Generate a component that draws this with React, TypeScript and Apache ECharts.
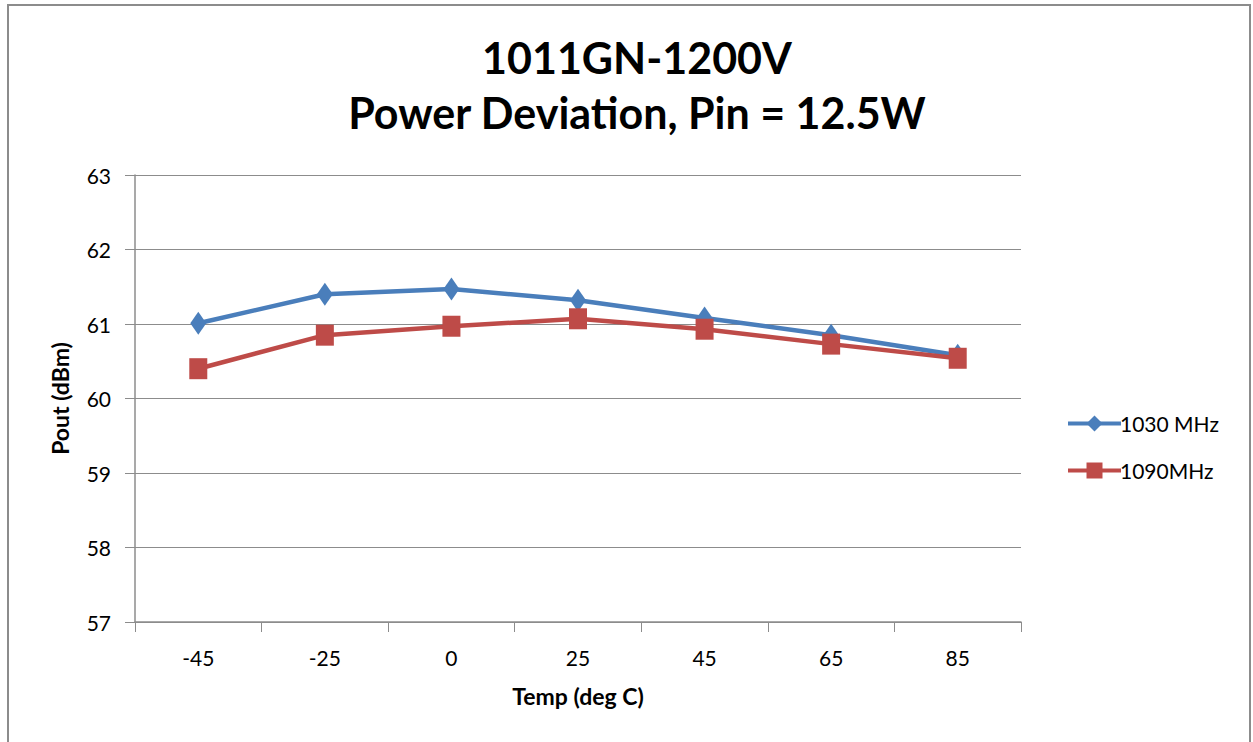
import React, { useEffect, useRef } from "react";
import * as echarts from "echarts";

const categories = ["-45", "-25", "0", "25", "45", "65", "85"];
const series1030 = [61.01, 61.4, 61.47, 61.32, 61.08, 60.85, 60.58];
const series1090 = [60.4, 60.85, 60.97, 61.07, 60.93, 60.73, 60.54];
const yTicks = { min: 57, max: 63, interval: 1 };

const FONT = "Lato, 'Open Sans', sans-serif";

export default function App() {
  const ref = useRef<HTMLDivElement>(null);
  useEffect(() => {
    if (!ref.current) return;
    const chart = echarts.init(ref.current, null, { renderer: "svg" });
    chart.setOption({
      animation: false,
      backgroundColor: "#ffffff",
      textStyle: { fontFamily: FONT },
      graphic: [
        {
          type: "rect",
          shape: { x: 8, y: 5, width: 1242, height: 760 },
          style: { fill: "none", stroke: "#8c8c8c", lineWidth: 2 },
          silent: true,
        },
      ],
      title: {
        text: "1011GN-1200V\nPower Deviation, Pin = 12.5W",
        left: 632,
        textAlign: "center",
        top: 25,
        textStyle: {
          fontFamily: FONT,
          fontSize: 43,
          fontWeight: "bold",
          color: "#000",
          lineHeight: 55,
        },
      },
      legend: {
        orient: "vertical",
        left: 1061,
        top: 408,
        itemGap: 26,
        itemWidth: 53,
        itemHeight: 20,
        lineStyle: { width: 4 },
        textStyle: { fontFamily: FONT, fontSize: 21, color: "#000", padding: [0, 0, 0, -6] },
        data: ["1030 MHz", "1090MHz"],
      },
      grid: { left: 135, right: 232, top: 175, bottom: 120 },
      xAxis: {
        type: "category",
        data: categories,
        name: "Temp (deg C)",
        nameLocation: "middle",
        nameGap: 62,
        nameTextStyle: { fontFamily: FONT, fontSize: 23, fontWeight: "bold", color: "#000" },
        axisLine: { lineStyle: { color: "#8c8c8c", width: 1.5 } },
        axisTick: { show: true, length: 10, lineStyle: { color: "#8c8c8c" } },
        axisLabel: { fontFamily: FONT, fontSize: 21, color: "#000", margin: 25 },
      },
      yAxis: {
        type: "value",
        min: yTicks.min,
        max: yTicks.max,
        interval: yTicks.interval,
        name: "Pout (dBm)",
        nameLocation: "middle",
        nameGap: 64,
        nameTextStyle: { fontFamily: FONT, fontSize: 23, fontWeight: "bold", color: "#000" },
        axisLine: { show: true, lineStyle: { color: "#8c8c8c", width: 1.5 } },
        axisTick: { show: true, length: 10, lineStyle: { color: "#8c8c8c" } },
        axisLabel: { fontFamily: FONT, fontSize: 21, color: "#000", margin: 24 },
        splitLine: { lineStyle: { color: "#8c8c8c", width: 1.2 } },
      },
      series: [
        {
          name: "1030 MHz",
          type: "line",
          data: series1030,
          symbol: "diamond",
          symbolSize: [16, 23],
          lineStyle: { color: "#4A7EBB", width: 4.5 },
          itemStyle: { color: "#4A7EBB" },
        },
        {
          name: "1090MHz",
          type: "line",
          data: series1090,
          symbol: "rect",
          symbolSize: [18, 21],
          lineStyle: { color: "#BE4B48", width: 4.5 },
          itemStyle: { color: "#BE4B48" },
        },
      ],
    });
    return () => chart.dispose();
  }, []);
  return (
    <div
      ref={ref}
      style={{ position: "fixed", left: 0, top: 0, width: 1253, height: 742 }}
    />
  );
}
